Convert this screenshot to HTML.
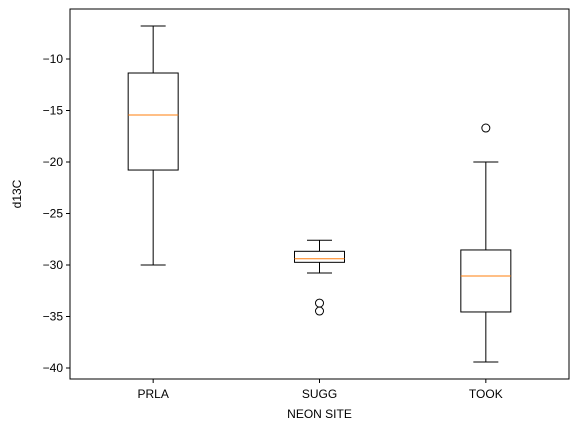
<!DOCTYPE html>
<html><head><meta charset="utf-8"><style>
body{margin:0;background:#fff;font-family:"Liberation Sans","DejaVu Sans",sans-serif}
svg text{font-family:"Liberation Sans","DejaVu Sans",sans-serif;font-size:12px;fill:#000}
</style></head><body>
<svg id="chart" width="574" height="432">
<g id="plot"></g>
</svg>
<script>
const categories=["PRLA","SUGG","TOOK"];
const whiskerHigh=[-6.8,-27.6,-20.0];
const q3=[-11.36,-28.67,-28.54];
const medians=[-15.44,-29.39,-31.07];
const q1=[-20.78,-29.74,-34.56];
const whiskerLow=[-30.0,-30.78,-39.42];
const outliers=[[],[-33.7,-34.47],[-16.7]];
const yTicks=[-10,-15,-20,-25,-30,-35,-40];
const L=70,R=569,T=9,B=379;
const y=v=>59+(-10-v)*10.3;
const x=i=>L+(i+0.5)*(R-L)/3;
const ns="http://www.w3.org/2000/svg";
const g=document.getElementById('plot');
function el(t,a,parent){const e=document.createElementNS(ns,t);for(const k in a)e.setAttribute(k,a[k]);(parent||g).appendChild(e);return e;}
yTicks.forEach(v=>{
 const yy=y(v);
 const tk=el('line',{x1:L-4,x2:L,y1:yy,y2:yy,stroke:'#000'});
 
 
 const t=el('text',{x:L-7,y:yy+4,'text-anchor':'end'});t.textContent='\u2212'+Math.abs(v);
 
 
});
categories.forEach((c,i)=>{
 const cx=x(i),bw=25,cw=12.5;
 const grp=el('g',{});
 
 
 el('line',{x1:cx,x2:cx,y1:y(whiskerHigh[i]),y2:y(q3[i]),stroke:'#000'},grp);
 el('line',{x1:cx,x2:cx,y1:y(q1[i]),y2:y(whiskerLow[i]),stroke:'#000'},grp);
 el('line',{x1:cx-cw,x2:cx+cw,y1:y(whiskerHigh[i]),y2:y(whiskerHigh[i]),stroke:'#000'},grp);
 el('line',{x1:cx-cw,x2:cx+cw,y1:y(whiskerLow[i]),y2:y(whiskerLow[i]),stroke:'#000'},grp);
 el('rect',{x:cx-bw,y:y(q3[i]),width:2*bw,height:y(q1[i])-y(q3[i]),fill:'none',stroke:'#000'},grp);
 el('line',{x1:cx-bw,x2:cx+bw,y1:y(medians[i]),y2:y(medians[i]),stroke:'#ff7f0e'},grp);
 outliers[i].forEach(o=>{const c2=el('circle',{cx:cx,cy:y(o),r:4,fill:'none',stroke:'#000'},grp);
  
  });
 const tk=el('line',{x1:cx,x2:cx,y1:B,y2:B+4,stroke:'#000'});
 
 
 const t=el('text',{x:cx,y:B+19,'text-anchor':'middle'});t.textContent=c;
 
 
});
const fr=el('rect',{x:L,y:T,width:R-L,height:B-T,fill:'none',stroke:'#000'});


const xt=el('text',{x:(L+R)/2,y:418,'text-anchor':'middle'});xt.textContent='NEON SITE';


const yt=el('text',{x:21,y:(T+B)/2,'text-anchor':'middle',transform:'rotate(-90 21 '+(T+B)/2+')'});yt.textContent='d13C';


</script>
</body></html>
